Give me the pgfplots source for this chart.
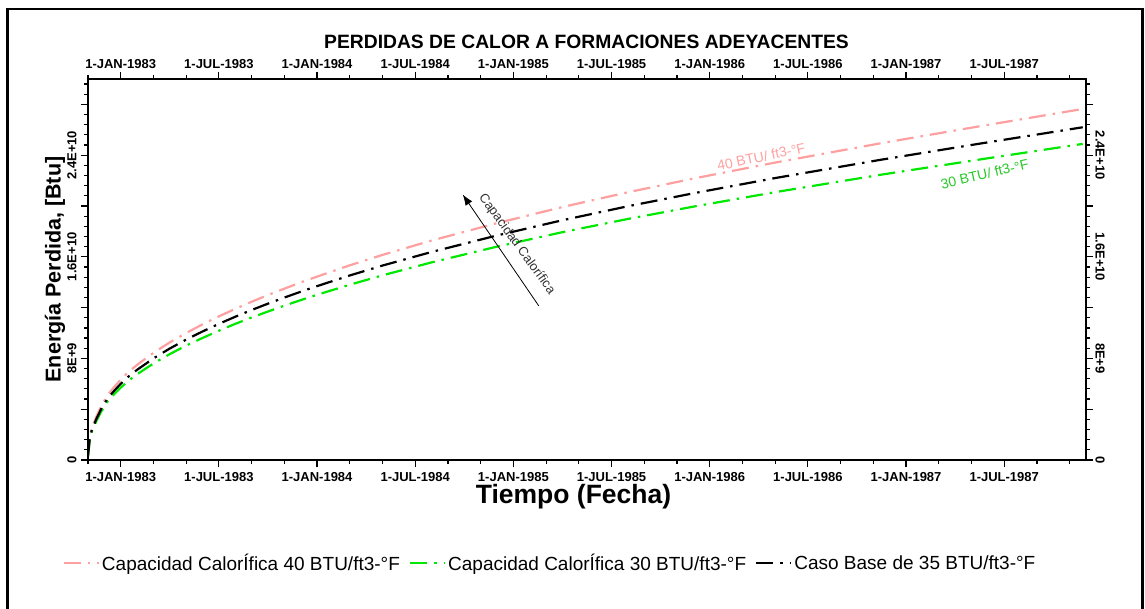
\documentclass[border=0pt]{standalone}
\usepackage{fontspec}
\setmainfont{Liberation Sans}
\usepackage{pgfplots}
\usepackage{pgfplotstable}
\pgfplotsset{compat=1.18}
\usetikzlibrary{arrows.meta}
\definecolor{pinkc}{RGB}{255,160,160}
\definecolor{greenc}{RGB}{0,232,0}
\definecolor{txtgreen}{RGB}{40,200,40}

% months since 1-JAN-1983 ; energy in 1E9 Btu
\pgfplotstableread{
m     pink   green  black
-2    0.32   0.29   0.30
-1.9  1.69   1.52   1.60
-1.78 2.43   2.19   2.30
-1.5  3.38   3.04   3.20
-1.2  4.22   3.80   4.00
-0.8  5.12   4.61   4.85
-0.4  5.75   5.18   5.45
0     6.33   5.70   6.00
0.5   6.96   6.27   6.60
1     7.49   6.75   7.10
2     8.44   7.60   8.00
3     9.26   8.34   8.78
4     10.00  9.01   9.48
5     10.68  9.61   10.12
6     11.31  10.18  10.72
7     11.90  10.72  11.28
8     12.46  11.22  11.81
9     12.99  11.69  12.31
10    13.49  12.15  12.79
11    13.98  12.59  13.25
12    14.44  13.01  13.69
14    15.33  13.80  14.53
16    16.15  14.54  15.31
19    17.28  15.56  16.38
23    18.65  16.80  17.68
27    19.92  17.94  18.88
31    21.08  18.98  19.98
35    22.16  19.95  21.00
40    23.42  21.09  22.20
46.5  24.95  22.47  23.65
52.6  26.30  23.68  24.93
58.8  27.64  24.89  26.20
}\datatable

\begin{document}
\begin{tikzpicture}[x=1pt,y=1pt]
\useasboundingbox (0,0) rectangle (1145,608);
\draw[line width=2.5pt] (7.5,-3) rectangle (1142.5,599);
\pgfplotsset{
  common/.style={
    scale only axis, width=998pt, height=381pt,
    at={(88pt,148pt)}, anchor=south west,
    xmin=-2, xmax=59, ymin=0, ymax=30,
    xtick={0,6,...,54},
    xticklabels={1-JAN-1983,1-JUL-1983,1-JAN-1984,1-JUL-1984,1-JAN-1985,1-JUL-1985,1-JAN-1986,1-JUL-1986,1-JAN-1987,1-JUL-1987},
    minor xtick={-2,0,...,58},
    ytick={0,4,...,28},
    yticklabels={0,,8E+9,,1.6E+10,,2.4E+10,},
    minor ytick={0.8,1.6,2.4,3.2,4.8,5.6,6.4,7.2,8.8,9.6,10.4,11.2,12.8,13.6,14.4,15.2,16.8,17.6,18.4,19.2,20.8,21.6,22.4,23.2,24.8,25.6,26.4,27.2,28.8,29.6},
    tick align=outside,
    major tick length=7pt, minor tick length=4pt,
    every tick/.style={black, line width=1.2pt},
    axis line style={line width=1.6pt},
    x tick label style={font=\fontsize{13}{13}\selectfont\bfseries, inner sep=0pt},
    y tick label style={font=\fontsize{13}{13}\selectfont\bfseries, inner sep=0pt},
  }
}
\begin{axis}[common,
  xticklabel style={anchor=center, yshift=-10pt},
  yticklabel style={anchor=center, xshift=-9pt, rotate=90},
  title={PERDIDAS DE CALOR A FORMACIONES ADEYACENTES},
  title style={at={(axis description cs:0.4995,1.097)}, anchor=center, inner sep=0pt, yshift=-6pt,
    font=\fontsize{19.3}{19.3}\selectfont\bfseries},
  xlabel={Tiempo (Fecha)},
  xlabel style={at={(axis description cs:0.4865,-0.096)}, anchor=center, inner sep=0pt,
    font=\fontsize{26.5}{26.5}\selectfont\bfseries},
  ylabel={Energía Perdida, [Btu]},
  ylabel style={at={(axis description cs:-0.033,0.5)}, anchor=center, inner sep=0pt,
    font=\fontsize{21.5}{21.5}\selectfont\bfseries},
  legend columns=-1,
  legend style={draw=none, fill=none, at={(axis description cs:0.463,-0.270)}, anchor=center,
    font=\fontsize{19}{22}\selectfont,
    /tikz/every even column/.append style={column sep=7pt}},
  legend image code/.code={\draw[#1] (0pt,0pt) -- (35pt,0pt);},
]
\addplot[pinkc, line width=2.2pt, dash pattern=on 17pt off 7pt on 2.5pt off 7pt] table[x=m,y=pink] {\datatable};
\addlegendentry{Capacidad CalorÍfica 40 BTU/ft3-°F}
\addplot[greenc, line width=2.2pt, dash pattern=on 17pt off 7pt on 2.5pt off 7pt] table[x=m,y=green] {\datatable};
\addlegendentry{Capacidad CalorÍfica 30 BTU/ft3-°F}
\addplot[black, line width=2.2pt, dash pattern=on 17pt off 7pt on 2.5pt off 7pt] table[x=m,y=black] {\datatable};
\addlegendentry{Caso Base de 35 BTU/ft3-°F}

\draw[line width=0.8pt, -{Latex[length=11pt,width=8pt]}] (axis cs:25.55,12.14) -- (axis cs:20.90,20.91);
\node[rotate=-54, font=\fontsize{13}{13}\selectfont, text=black!80] at (axis cs:24.21,16.99) {Capacidad Calorífica};
\node[rotate=12, font=\fontsize{14}{14}\selectfont, text=pinkc] at (axis cs:39.15,23.88) {40 BTU/ ft3-°F};
\node[rotate=13, font=\fontsize{14}{14}\selectfont, text=txtgreen] at (axis cs:52.80,22.51) {30 BTU/ ft3-°F};
\end{axis}
\begin{axis}[common,
  xticklabel pos=right, yticklabel pos=right,
  xticklabel style={anchor=center, yshift=8pt},
  yticklabel style={anchor=center, xshift=7pt, rotate=-90},
]
\end{axis}
\end{tikzpicture}
\end{document}
